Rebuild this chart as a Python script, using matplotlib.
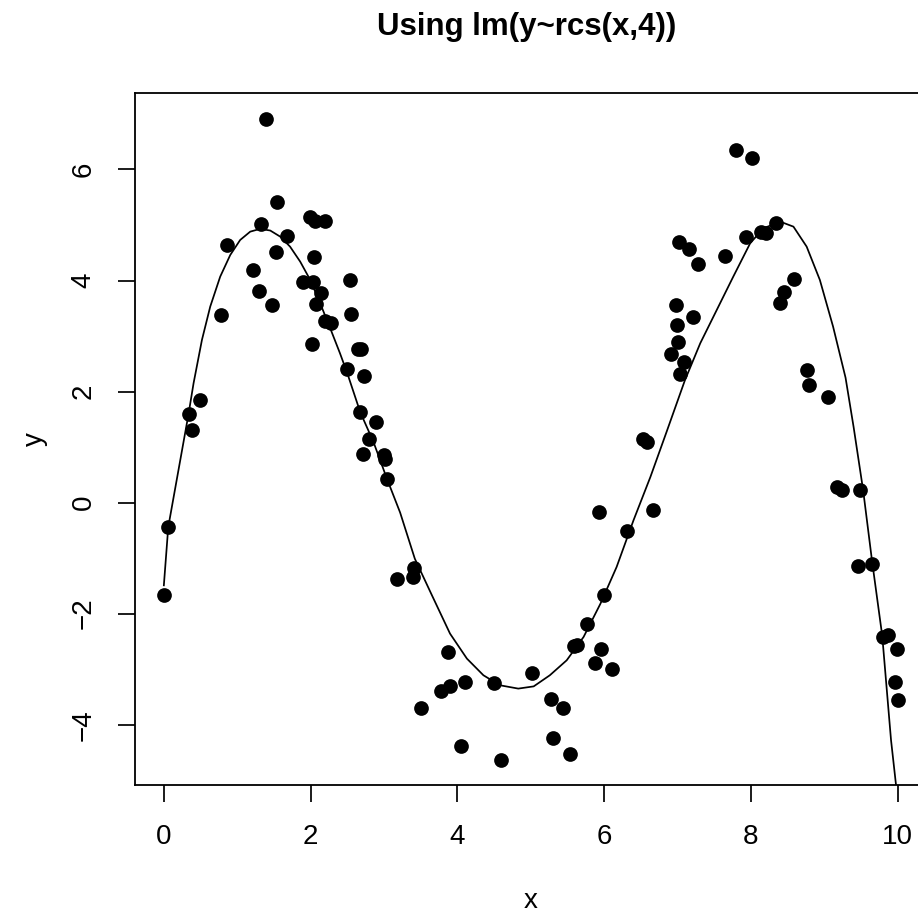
"""
Scatter of y vs x with the fitted lm(y~rcs(x,4)) curve, R base-graphics look
"""
import matplotlib
matplotlib.use('Agg')
import matplotlib.pyplot as plt
import numpy as np

# data points
x = [1.398, 1.545, 1.995, 2.063, 2.19, 1.33, 1.677, 0.854, 1.527, 2.04,
     1.209, 1.90, 2.03, 2.54, 1.29, 2.14, 1.477, 2.076, 0.773, 2.545,
     2.199, 2.28, 2.017, 2.645, 2.69, 2.49, 2.73,
     0.487, 0.337, 0.377, 2.667, 2.89, 2.794, 2.71, 3.00, 3.017,
     3.035, 0.06, 0.0, 3.175, 3.40, 3.41, 3.50,
     6.527, 6.59, 5.93, 6.66, 6.31, 6.00, 5.77, 5.595, 5.636, 5.963,
     5.87, 6.11, 3.87, 5.02, 4.10, 4.497, 3.775, 3.90, 5.28, 5.446,
     4.056, 5.30, 4.59, 5.537,
     7.80, 8.01, 8.34, 8.135, 8.21, 7.93, 7.02, 7.16, 7.65, 7.285,
     8.585, 8.45, 8.39, 6.98, 7.217, 6.996, 7.01, 6.91, 7.09, 7.036, 8.77,
     8.79, 9.056, 9.18, 9.24, 9.486, 9.457, 9.65, 9.80, 9.875, 9.99,
     9.97, 10.0]
y = [6.91, 5.42, 5.14, 5.08, 5.08, 5.02, 4.80, 4.64, 4.51, 4.43,
     4.19, 3.98, 3.98, 4.01, 3.81, 3.77, 3.55, 3.57, 3.38, 3.39,
     3.27, 3.24, 2.85, 2.77, 2.77, 2.40, 2.28,
     1.84, 1.60, 1.30, 1.63, 1.46, 1.14, 0.88, 0.85, 0.78,
     0.43, -0.44, -1.67, -1.37, -1.34, -1.17, -3.70,
     1.14, 1.10, -0.17, -0.13, -0.52, -1.67, -2.19, -2.59, -2.56, -2.64,
     -2.88, -2.99, -2.69, -3.07, -3.23, -3.245, -3.40, -3.31, -3.53, -3.70,
     -4.375, -4.24, -4.63, -4.52,
     6.35, 6.21, 5.03, 4.88, 4.855, 4.78, 4.69, 4.57, 4.45, 4.30,
     4.02, 3.80, 3.60, 3.55, 3.35, 3.20, 2.90, 2.67, 2.53, 2.32, 2.385,
     2.11, 1.90, 0.28, 0.23, 0.22, -1.15, -1.10, -2.42, -2.39, -2.64,
     -3.23, -3.56]

# fitted curve, values
fit_x = [0.0, 0.06, 0.337, 0.405, 0.519, 0.632, 0.768, 0.905, 1.04, 1.177,
         1.313, 1.45, 1.586, 1.72, 1.858, 1.995, 2.13, 2.267, 2.40, 2.50,
         2.676, 2.857, 3.04, 3.22, 3.42, 3.65, 3.90, 4.13, 4.355, 4.58,
         4.83, 5.04, 5.26, 5.49, 5.72, 5.95, 6.17, 6.40, 6.63, 6.85,
         7.10, 7.31, 7.535, 7.76, 7.99, 8.17, 8.40, 8.58, 8.76, 8.94,
         9.12, 9.29, 9.40, 9.53, 9.65, 9.79, 9.91, 10.0]
fit_y = [-1.49, -0.44, 1.60, 2.15, 2.93, 3.53, 4.07, 4.46, 4.73, 4.88,
         4.93, 4.90, 4.79, 4.61, 4.34, 4.01, 3.59, 3.14, 2.69, 2.33,
         1.63, 1.09, 0.43, -0.18, -1.01, -1.66, -2.36, -2.81, -3.11, -3.29,
         -3.35, -3.31, -3.11, -2.84, -2.42, -1.82, -1.16, -0.32, 0.46, 1.27,
         2.20, 2.87, 3.47, 4.07, 4.67, 4.94, 5.06, 4.97, 4.61, 4.01,
         3.17, 2.25, 1.36, 0.22, -1.04, -2.40, -4.28, -5.35]

x = np.array(x)
y = np.array(y)

plt.rcParams['font.family'] = ['Liberation Sans', 'DejaVu Sans']

W, H = 918, 915
fig = plt.figure(figsize=(W / 100, H / 100), dpi=100)
left, right, top, bottom = 134.5, 927.0, 93.3, 785.3
ax = fig.add_axes([left / W, 1 - bottom / H, (right - left) / W, (bottom - top) / H])

ax.scatter(x, y, s=112, color='black', zorder=3, linewidths=0)
ax.plot(fit_x, fit_y, color='black', linewidth=1.25)

# R style 4% padding
xr = x.max() - x.min()
yr = y.max() - y.min()
ax.set_xlim(x.min() - 0.04 * xr, x.max() + 0.04 * xr)
ax.set_ylim(y.min() - 0.04 * yr, y.max() + 0.04 * yr)

ax.set_xticks([0, 2, 4, 6, 8, 10])
ax.set_yticks([-4, -2, 0, 2, 4, 6])
ax.set_yticklabels(['\u22124', '\u22122', '0', '2', '4', '6'], rotation=90, va='center')
ax.tick_params(axis='both', length=12.2, width=1.25, labelsize=20)
ax.tick_params(axis='x', pad=16)
ax.tick_params(axis='y', pad=15)
for s in ax.spines.values():
    s.set_linewidth(1.3)

fig.text(526.7 / W, 1 - 27 / H, 'Using lm(y~rcs(x,4))', ha='center', va='center',
         fontsize=22.5, fontweight='bold')
fig.text(530.7 / W, 1 - 908 / H, 'x', ha='center', va='baseline', fontsize=20)
fig.text(35 / W, 1 - 439 / H, 'y', ha='center', va='center', fontsize=20, rotation=90)

fig.savefig('out.png', dpi=100)
